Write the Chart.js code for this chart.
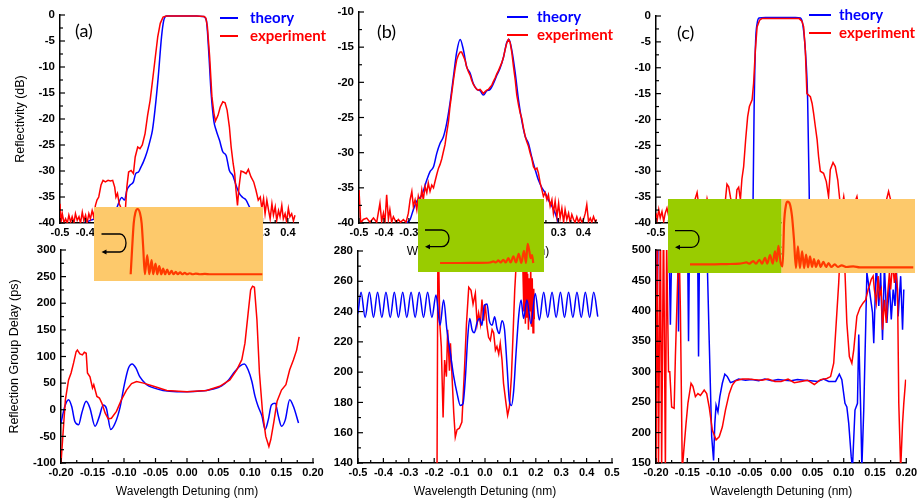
<!DOCTYPE html>
<html><head><meta charset="utf-8">
<script src="https://cdn.jsdelivr.net/npm/chart.js@4"></script>
<style>
html,body{margin:0;padding:0;background:#fff;width:920px;height:502px;overflow:hidden}
canvas{position:absolute;left:0;top:0}
</style></head><body>
<canvas id="aTop" width="920" height="502"></canvas>
<canvas id="aBot" width="920" height="502"></canvas>
<canvas id="bTop" width="920" height="502"></canvas>
<canvas id="bBot" width="920" height="502"></canvas>
<canvas id="cTop" width="920" height="502"></canvas>
<canvas id="cBot" width="920" height="502"></canvas>
<canvas id="insA" width="920" height="502"></canvas>
<canvas id="insB" width="920" height="502"></canvas>
<canvas id="insC" width="920" height="502"></canvas>
<script>
// ---------- tick labels ----------
const xTicksWide = [-0.5,-0.4,-0.3,-0.2,-0.1,0,0.1,0.2,0.3,0.4];
const xTicksFull = [-0.5,-0.4,-0.3,-0.2,-0.1,0,0.1,0.2,0.3,0.4,0.5];
const xTicksNarrow = [-0.2,-0.15,-0.1,-0.05,0,0.05,0.1,0.15,0.2];
const yTicksRefl = [0,-5,-10,-15,-20,-25,-30,-35,-40];
const yTicksReflB = [-10,-15,-20,-25,-30,-35,-40];
const yTicksDelayA = [-100,-50,0,50,100,150,200,250,300];
const yTicksDelayB = [140,160,180,200,220,240,260,280];
const yTicksDelayC = [150,200,250,300,350,400,450,500];
const seriesNames = ['theory','experiment'];

// ---------- (a) ----------
const aTopTheory = [[-0.44,-41],[-0.38,-39.5],[-0.32,-38.5],[-0.28,-37.5],[-0.256,-35.1],[-0.245,-35.6],[-0.236,-33.7],[-0.223,-32.7],[-0.210,-32.1],[-0.201,-30.5],[-0.190,-30.2],[-0.180,-29.2],[-0.171,-28.3],[-0.158,-26.6],[-0.144,-24.1],[-0.135,-22.2],[-0.125,-18.3],[-0.112,-11.9],[-0.099,-4.2],[-0.090,-1.0],[-0.079,-0.2],[-0.04,-0.2],[0,-0.2],[0.04,-0.2],[0.065,-0.3],[0.078,-1.0],[0.087,-6.7],[0.097,-15.1],[0.108,-20.5],[0.117,-22.2],[0.130,-24.1],[0.143,-26.3],[0.156,-27.0],[0.169,-29.9],[0.182,-30.8],[0.195,-32.7],[0.208,-34.3],[0.222,-35.1],[0.235,-35.6],[0.248,-36.9],[0.26,-38],[0.28,-39.5],[0.30,-41]];
const aTopExp = [[-0.500,-36.3],[-0.496,-39.8],[-0.491,-38.2],[-0.484,-40],[-0.478,-39.2],[-0.471,-40],[-0.465,-38.5],[-0.458,-39.8],[-0.452,-38.8],[-0.445,-40],[-0.439,-38.2],[-0.432,-39.5],[-0.425,-38.8],[-0.419,-40],[-0.412,-37.9],[-0.406,-39.5],[-0.399,-38.5],[-0.393,-40],[-0.386,-38.2],[-0.380,-39.2],[-0.373,-37.6],[-0.367,-38.8],[-0.360,-36.6],[-0.354,-35.6],[-0.347,-35.0],[-0.338,-32.7],[-0.330,-31.8],[-0.321,-32.1],[-0.310,-31.8],[-0.301,-31.9],[-0.292,-31.8],[-0.284,-33.1],[-0.279,-35.0],[-0.273,-34.3],[-0.266,-36.3],[-0.258,-37.2],[-0.249,-38.2],[-0.242,-37.6],[-0.236,-33.1],[-0.229,-30.2],[-0.219,-29.9],[-0.210,-30.5],[-0.203,-27.3],[-0.193,-25.4],[-0.184,-25.7],[-0.175,-25.0],[-0.164,-22.8],[-0.154,-19.3],[-0.144,-16.4],[-0.135,-12.8],[-0.125,-8.7],[-0.114,-4.2],[-0.104,-1.6],[-0.093,-0.4],[-0.08,-0.2],[-0.04,-0.2],[0,-0.2],[0.04,-0.2],[0.07,-0.3],[0.076,-0.6],[0.082,-2.2],[0.091,-8.0],[0.100,-15.7],[0.108,-18.9],[0.114,-20.4],[0.124,-19.3],[0.133,-17.7],[0.143,-16.7],[0.152,-16.9],[0.160,-18.3],[0.169,-21.5],[0.176,-25.4],[0.184,-28.6],[0.190,-30.5],[0.195,-33.7],[0.201,-36.6],[0.207,-33.1],[0.215,-30.0],[0.225,-30.2],[0.235,-30.5],[0.244,-29.7],[0.254,-31.1],[0.265,-32.1],[0.274,-33.7],[0.283,-35.6],[0.291,-35.0],[0.297,-37.2],[0.304,-35.3],[0.310,-38.2],[0.317,-35.6],[0.324,-37.6],[0.330,-39.2],[0.337,-36.3],[0.343,-38.5],[0.350,-36.9],[0.356,-39.5],[0.363,-37.6],[0.369,-38.8],[0.376,-36.6],[0.382,-39.2],[0.389,-38.2],[0.395,-39.8],[0.402,-37.2],[0.408,-38.8],[0.415,-38.2],[0.422,-39.6],[0.428,-38.5]];
const aBotTheory = [[-0.200,-25],[-0.194,6],[-0.188,19],[-0.183,6],[-0.178,-22],[-0.172,-28],[-0.167,-6],[-0.160,16],[-0.154,3],[-0.146,-31],[-0.139,-12],[-0.133,9],[-0.128,3],[-0.121,-37],[-0.114,-25],[-0.106,6],[-0.100,44],[-0.093,78],[-0.087,86],[-0.081,78],[-0.075,62],[-0.064,47],[-0.053,41],[-0.038,36],[-0.016,34],[0.000,34],[0.021,35],[0.042,39],[0.055,45],[0.066,56],[0.076,72],[0.085,83],[0.091,86],[0.097,75],[0.103,53],[0.108,25],[0.113,6],[0.119,-12],[0.124,-37],[0.129,-19],[0.134,9],[0.140,12],[0.145,-12],[0.150,-31],[0.156,-19],[0.163,19],[0.169,6],[0.177,-25]];
const aBotExp = [[-0.200,-100],[-0.196,-31],[-0.193,19],[-0.188,56],[-0.184,69],[-0.180,88],[-0.176,109],[-0.174,112],[-0.170,105],[-0.166,103],[-0.163,108],[-0.160,106],[-0.158,69],[-0.154,62],[-0.150,41],[-0.148,47],[-0.143,25],[-0.139,22],[-0.135,12],[-0.130,-6],[-0.125,-17],[-0.120,-16],[-0.112,-3],[-0.104,19],[-0.096,37],[-0.088,49],[-0.080,53],[-0.069,50],[-0.053,44],[-0.032,36],[0.000,34],[0.031,36],[0.052,44],[0.068,56],[0.079,75],[0.087,94],[0.092,125],[0.097,181],[0.101,225],[0.104,232],[0.107,230],[0.111,169],[0.115,69],[0.120,-6],[0.125,-50],[0.130,-69],[0.133,-56],[0.138,-22],[0.143,16],[0.150,37],[0.157,47],[0.163,75],[0.169,94],[0.174,112],[0.178,137]];

// ---------- (b) ----------
const bTopTheory = [[-0.34,-41],[-0.309,-40],[-0.295,-39.5],[-0.282,-38.1],[-0.268,-36.9],[-0.248,-36.0],[-0.228,-33.9],[-0.215,-32.7],[-0.201,-32.0],[-0.188,-30.1],[-0.175,-28.7],[-0.161,-27.7],[-0.148,-25.8],[-0.135,-23.0],[-0.121,-19.2],[-0.108,-15.7],[-0.094,-13.9],[-0.081,-15.4],[-0.068,-17.8],[-0.054,-18.7],[-0.041,-20.2],[-0.027,-21.0],[-0.014,-21.2],[-0.001,-21.8],[0.013,-21.2],[0.026,-21.0],[0.039,-20.2],[0.053,-19.0],[0.066,-18.0],[0.080,-16.4],[0.093,-14.3],[0.102,-13.9],[0.113,-15.4],[0.127,-18.7],[0.140,-22.5],[0.153,-25.4],[0.167,-27.7],[0.180,-28.7],[0.193,-30.6],[0.207,-32.4],[0.220,-33.9],[0.234,-35.0],[0.247,-35.7],[0.260,-36.7],[0.274,-37.6],[0.287,-38.6],[0.301,-40.0],[0.32,-41]];
const bTopExp = [[-0.500,-35.3],[-0.493,-40],[-0.483,-39.5],[-0.469,-39.3],[-0.456,-39.9],[-0.442,-39.3],[-0.429,-39.9],[-0.416,-37.2],[-0.409,-39.8],[-0.402,-38.6],[-0.396,-39.9],[-0.389,-36.0],[-0.382,-39.5],[-0.376,-38.1],[-0.369,-39.9],[-0.362,-39.1],[-0.351,-39.9],[-0.342,-39.5],[-0.333,-39.9],[-0.322,-39.5],[-0.311,-39.9],[-0.302,-38.6],[-0.295,-36.7],[-0.288,-35.5],[-0.282,-37.6],[-0.275,-36.7],[-0.268,-38.1],[-0.262,-36.2],[-0.255,-37.2],[-0.248,-35.3],[-0.242,-36.7],[-0.235,-34.8],[-0.228,-35.7],[-0.222,-34.3],[-0.215,-35.5],[-0.208,-34.6],[-0.201,-35.0],[-0.195,-34.1],[-0.188,-33.1],[-0.181,-32.2],[-0.175,-31.7],[-0.168,-30.9],[-0.161,-29.8],[-0.155,-28.9],[-0.148,-27.2],[-0.141,-25.6],[-0.135,-23.5],[-0.128,-21.6],[-0.121,-19.7],[-0.114,-18.0],[-0.108,-16.8],[-0.101,-16.1],[-0.094,-15.7],[-0.088,-15.7],[-0.081,-16.3],[-0.074,-16.9],[-0.068,-17.8],[-0.061,-18.5],[-0.054,-19.0],[-0.048,-19.7],[-0.041,-20.3],[-0.034,-20.7],[-0.027,-21.0],[-0.021,-21.1],[-0.014,-21.0],[-0.007,-21.3],[-0.001,-21.6],[0.006,-21.3],[0.013,-21.1],[0.019,-21.0],[0.026,-20.7],[0.033,-20.4],[0.039,-19.9],[0.046,-19.4],[0.053,-18.8],[0.060,-18.3],[0.066,-17.8],[0.073,-17.2],[0.080,-16.4],[0.086,-15.4],[0.093,-14.4],[0.100,-13.9],[0.106,-14.3],[0.113,-15.7],[0.120,-17.8],[0.127,-19.7],[0.133,-21.8],[0.140,-23.2],[0.147,-24.4],[0.153,-25.1],[0.160,-26.5],[0.167,-27.7],[0.173,-28.4],[0.180,-29.1],[0.187,-30.1],[0.193,-30.8],[0.200,-32.0],[0.207,-32.4],[0.214,-32.2],[0.220,-32.9],[0.227,-34.3],[0.234,-35.3],[0.240,-36.2],[0.247,-35.7],[0.254,-36.7],[0.260,-36.0],[0.267,-37.6],[0.274,-36.7],[0.280,-38.6],[0.287,-36.9],[0.294,-39.1],[0.301,-37.2],[0.307,-39.3],[0.314,-37.9],[0.321,-39.9],[0.327,-38.1],[0.334,-39.5],[0.341,-38.6],[0.347,-39.9],[0.354,-38.8],[0.361,-39.5],[0.367,-39.9],[0.374,-39.1],[0.381,-39.9],[0.388,-39.3],[0.394,-39.9],[0.401,-39.5],[0.408,-38.6],[0.414,-37.4],[0.421,-39.8],[0.428,-39.3],[0.434,-39.9],[0.441,-39.1],[0.448,-39.8],[0.454,-39.5]];
const bBotTheory = [[-0.500,238.8],[-0.488,252.7],[-0.472,236.1],[-0.455,252.7],[-0.439,236.1],[-0.423,252.7],[-0.406,236.1],[-0.390,252.7],[-0.373,236.1],[-0.357,252.7],[-0.341,236.1],[-0.324,252.7],[-0.308,236.1],[-0.291,252.7],[-0.275,236.1],[-0.259,252.7],[-0.242,236.1],[-0.226,252.7],[-0.209,236.1],[-0.193,251],[-0.177,231],[-0.163,247.6],[-0.150,228],[-0.136,212],[-0.123,197],[-0.110,186],[-0.097,178],[-0.087,179],[-0.077,197],[-0.068,223],[-0.060,235.5],[-0.051,228],[-0.042,226],[-0.031,233],[-0.021,235.5],[-0.012,231],[-0.003,244],[0.008,245],[0.017,234],[0.028,231],[0.038,236.6],[0.047,229],[0.056,225.5],[0.067,234],[0.077,228],[0.087,203.5],[0.096,181],[0.104,178],[0.113,188],[0.122,212],[0.133,237.7],[0.142,247.6],[0.152,235.5],[0.165,247.6],[0.181,232],[0.198,252],[0.214,234.4],[0.231,252.7],[0.247,236.1],[0.264,252.7],[0.280,236.1],[0.297,252.7],[0.313,236.1],[0.329,252.7],[0.346,236.1],[0.362,252.7],[0.379,236.1],[0.395,252.7],[0.412,236.1],[0.428,252.7],[0.444,236.6]];
const bBotExp = [[-0.189,130],[-0.185,300],[-0.178,232],[-0.172,217],[-0.165,170],[-0.159,208],[-0.152,197],[-0.147,228],[-0.140,201],[-0.136,219],[-0.130,198],[-0.123,173],[-0.117,157],[-0.110,162],[-0.101,163],[-0.091,167],[-0.081,201],[-0.073,232],[-0.064,256],[-0.055,254],[-0.047,245],[-0.038,252],[-0.031,232],[-0.025,239],[-0.018,232],[-0.012,248],[-0.005,234],[0.001,245],[0.008,230],[0.014,223],[0.021,221],[0.028,228],[0.034,226],[0.041,214.5],[0.047,217],[0.054,212],[0.060,219],[0.067,208],[0.073,192.5],[0.083,179],[0.089,171.5],[0.096,177],[0.104,197],[0.110,223],[0.117,254],[0.123,272],[0.129,290],[0.135,300],[0.140,285],[0.145,300],[0.150,262],[0.153,240],[0.156,275],[0.159,232],[0.162,268],[0.165,236],[0.168,265],[0.171,228],[0.174,262],[0.177,240],[0.180,270],[0.183,230],[0.186,262],[0.189,226],[0.192,255],[0.194,235]];

// ---------- (c) ----------
const cTopTheory = [[-0.115,-45],[-0.110,-35],[-0.106,-18],[-0.100,-5],[-0.094,-1.5],[-0.086,-0.4],[-0.06,-0.3],[0,-0.3],[0.06,-0.3],[0.080,-0.4],[0.090,-1.8],[0.0997,-6.6],[0.109,-16.2],[0.115,-33],[0.118,-45]];
const cTopExp = [[-0.500,-38.1],[-0.495,-39.4],[-0.489,-37.4],[-0.483,-39.0],[-0.476,-37.8],[-0.469,-39.7],[-0.463,-38.1],[-0.456,-37.1],[-0.449,-38.7],[-0.44,-39.5],[-0.43,-37.8],[-0.42,-39.2],[-0.41,-38.0],[-0.40,-39.6],[-0.39,-37.5],[-0.38,-38.8],[-0.37,-37.0],[-0.36,-39.0],[-0.35,-36.5],[-0.335,-34.1],[-0.325,-37.8],[-0.315,-36.8],[-0.305,-38.5],[-0.295,-35.3],[-0.285,-37.6],[-0.275,-36.2],[-0.265,-38.4],[-0.255,-36.6],[-0.245,-37.9],[-0.235,-36.0],[-0.225,-37.4],[-0.215,-32.5],[-0.208,-33.0],[-0.201,-35.0],[-0.194,-36.5],[-0.187,-35.8],[-0.181,-37.0],[-0.175,-33.6],[-0.168,-33.1],[-0.161,-35.5],[-0.155,-31.5],[-0.148,-29.1],[-0.140,-23.9],[-0.132,-19.5],[-0.125,-17.5],[-0.114,-16.2],[-0.108,-13.0],[-0.101,-6.6],[-0.094,-2.1],[-0.084,-0.8],[-0.075,-0.5],[0,-0.5],[0.075,-0.5],[0.086,-1.0],[0.093,-2.1],[0.0997,-6.6],[0.106,-15.0],[0.113,-15.3],[0.120,-15.6],[0.127,-16.9],[0.133,-18.8],[0.140,-21.4],[0.147,-23.9],[0.153,-27.2],[0.160,-30.0],[0.173,-30.4],[0.184,-32.0],[0.193,-34.9],[0.200,-29.7],[0.211,-28.3],[0.220,-29.1],[0.230,-31.7],[0.238,-35.5],[0.245,-37.5],[0.254,-34.9],[0.262,-37.8],[0.272,-36.5],[0.282,-38.6],[0.292,-36.9],[0.307,-34.9],[0.317,-37.9],[0.330,-36.4],[0.345,-38.2],[0.360,-36.7],[0.375,-38.9],[0.390,-37.1],[0.405,-38.4],[0.420,-36.6],[0.434,-33.9],[0.441,-35.3],[0.450,-37.8],[0.460,-38.5]];
const cBotTheory = [[-0.200,560],[-0.198,420],[-0.196,560],[-0.180,560],[-0.177,377],[-0.174,560],[-0.166,560],[-0.164,366],[-0.162,560],[-0.150,560],[-0.148,350],[-0.146,560],[-0.134,560],[-0.132,325],[-0.130,560],[-0.120,560],[-0.115,352],[-0.111,193],[-0.108,154],[-0.106,215],[-0.104,245],[-0.101,234],[-0.098,259],[-0.094,281],[-0.090,296],[-0.086,292],[-0.081,282],[-0.076,284],[-0.068,288],[-0.057,286],[-0.047,287],[-0.036,285],[-0.026,288],[-0.015,285],[-0.005,287],[0.005,286],[0.016,285],[0.026,287],[0.037,286],[0.047,285],[0.058,284],[0.068,288],[0.076,284],[0.087,284],[0.093,296],[0.097,287],[0.102,248],[0.105,242],[0.108,215],[0.112,160],[0.114,143],[0.118,237],[0.122,248],[0.124,361],[0.127,242],[0.129,143],[0.132,237],[0.135,369],[0.137,463],[0.141,435],[0.146,397],[0.148,347],[0.152,479],[0.156,408],[0.159,463],[0.162,352],[0.165,474],[0.169,380],[0.173,446],[0.176,386],[0.179,435],[0.182,408],[0.184,474],[0.187,391],[0.191,457],[0.194,369],[0.196,435]];
const cBotExp = [[-0.200,140],[-0.198,560],[-0.196,140],[-0.193,560],[-0.191,140],[-0.188,560],[-0.185,140],[-0.183,520],[-0.180,300],[-0.178,300],[-0.175,242],[-0.171,240],[-0.169,325],[-0.165,463],[-0.164,560],[-0.161,400],[-0.158,140],[-0.156,165],[-0.152,215],[-0.149,248],[-0.144,281],[-0.141,276],[-0.137,259],[-0.133,264],[-0.129,261],[-0.123,270],[-0.119,264],[-0.115,242],[-0.110,204],[-0.104,188],[-0.099,193],[-0.094,209],[-0.089,237],[-0.083,264],[-0.078,278],[-0.073,285],[-0.062,288],[-0.052,288],[-0.042,287],[-0.031,286],[-0.021,288],[-0.010,284],[0.000,284],[0.011,288],[0.021,282],[0.032,284],[0.042,286],[0.053,279],[0.063,287],[0.073,289],[0.079,292],[0.084,314],[0.088,380],[0.092,446],[0.094,490],[0.096,520],[0.100,520],[0.105,380],[0.109,325],[0.113,314],[0.116,336],[0.121,391],[0.126,405],[0.131,413],[0.135,418],[0.139,435],[0.141,441],[0.144,452],[0.147,457],[0.149,435],[0.152,413],[0.155,457],[0.157,424],[0.160,435],[0.162,369],[0.165,418],[0.168,380],[0.170,424],[0.173,463],[0.175,435],[0.178,479],[0.181,446],[0.183,468],[0.186,435],[0.188,248],[0.191,140],[0.194,215],[0.196,248],[0.199,287]];

// ---------- insets (normalised 0..100 coordinates inside each inset) ----------
const insetACurve = [[21.7,9.1],[22.5,41.8],[23.5,78],[24.5,92.7],[25.8,97.3],[27.2,91.8],[28.2,78],[29.1,46],[30.1,9.1],[31.5,35],[32.7,9.1],[34.1,28.2],[35.0,9.1],[36.4,23.6],[37.4,9.1],[38.6,20],[39.8,9.1],[40.9,16.8],[42.1,9.1],[43.3,15.5],[44.5,9.1],[45.9,13.6],[47.0,9.1],[48.4,12.3],[49.6,9.1],[51.0,11.8],[52.2,9.1],[53.7,11],[55.1,9.1],[56.7,10.5],[58.3,9.1],[60.2,10],[62.6,9.1],[65.6,9.5],[68.5,9.1],[99.6,9.1]];
const insetBCurve = [[17.5,12.3],[33.3,12.3],[46.6,12.5],[57.1,13],[59.8,14.5],[61.9,13],[63.8,15.9],[65.6,13],[67.7,16.8],[69.6,13],[71.7,19],[73.5,13],[75.7,21.4],[77.8,13],[79.9,25],[82,12.3],[84.1,29],[85.7,12.3],[87,38.6],[88.4,28],[89.4,19],[90.5,23],[91.5,12.3]];
const insetCCurve = [[8.9,11.7],[17.0,11.7],[23.8,12.1],[29.1,12.6],[30.5,13.5],[31.8,14.3],[32.9,12.6],[34.5,16.1],[35.6,12.6],[37.0,17.9],[38.1,12.6],[39.3,20.6],[40.2,12.6],[41.3,24.2],[42.4,12.6],[43.3,29.1],[44.0,15.7],[44.7,36.8],[45.6,14.3],[46.4,9.0],[47.0,67.3],[47.8,92.4],[48.4,96.4],[49.4,92.4],[50.2,76.7],[51.0,45.3],[51.8,6.7],[52.6,35.9],[53.4,6.7],[54.3,29.1],[55.1,6.7],[55.9,24.7],[56.7,7.6],[57.5,22.4],[58.3,8.1],[59.1,18.8],[59.9,8.1],[60.9,17],[61.8,8.1],[62.9,15.2],[64.0,8.1],[65.0,13.5],[66.1,8.1],[67.5,11.7],[68.8,8.1],[70.3,10.3],[72.3,8.1],[75.0,9.0],[77.7,7.6],[99.3,7.6]];

// ---------- styling ----------
const BLUE = '#0000ff', RED = '#ff0000';
const ORANGE = '#fdc96b', GREEN = '#99cc00', INSET_LINE = '#ff3a00';

function hasFont(name) {
  const c = document.createElement('canvas').getContext('2d');
  c.font = 'bold 40px monospace';
  const w0 = c.measureText('-0.20 Wavelength').width;
  c.font = "bold 40px '" + name + "', monospace";
  return Math.abs(c.measureText('-0.20 Wavelength').width - w0) > 0.5;
}
const narrowOK = hasFont('Liberation Sans Narrow');
const xTickFont = narrowOK
  ? {family: "'Liberation Sans Narrow', 'Liberation Sans', Arial, sans-serif", size: 12.5, weight: 'bold'}
  : {family: "'Liberation Sans', Arial, sans-serif", size: 11, weight: 'bold'};
const yTickFont = {family: "'Liberation Sans', Arial, sans-serif", size: 11.5, weight: 'bold'};
const fmt = (v, d) => (Math.abs(v) < 1e-9 ? 0 : v).toFixed(d);

const tickMarks = {
  id: 'tickMarks',
  afterDraw(chart) {
    const {ctx, chartArea: a, scales: {x, y}} = chart;
    ctx.save(); ctx.strokeStyle = '#000'; ctx.lineWidth = 1.2;
    const draw = (s, horiz) => {
      const vals = s.ticks.map(t => t.value).sort((p, q) => p - q);
      const step = vals[1] - vals[0];
      const marks = vals.map(v => [v, 5]);
      for (let i = -1; i < vals.length; i++) {
        const m = vals[0] + (i + 0.5) * step;
        if (m >= s.min - 1e-9 && m <= s.max + 1e-9) marks.push([m, 3]);
      }
      marks.forEach(([v, len]) => {
        const p = s.getPixelForValue(v);
        ctx.beginPath();
        if (horiz) { ctx.moveTo(p, a.bottom); ctx.lineTo(p, a.bottom - len); }
        else { ctx.moveTo(a.left, p); ctx.lineTo(a.left + len, p); }
        ctx.stroke();
      });
    };
    draw(x, true); draw(y, false);
    ctx.restore();
  }
};

const decor = {
  id: 'decor',
  afterDraw(chart, args, o) {
    if (!o || !o.label) return;
    const ctx = chart.ctx; ctx.save();
    ctx.textBaseline = 'middle'; ctx.textAlign = 'left';
    ctx.font = "18px Lato, 'Open Sans', sans-serif"; ctx.fillStyle = '#000';
    ctx.fillText(o.label, o.labelX, o.labelY);
    if (o.legend) {
      ctx.font = "bold 15px Lato, 'Open Sans', sans-serif";
      o.legend.y.forEach((yy, i) => {
        const d = chart.data.datasets[i];
        ctx.strokeStyle = d.borderColor; ctx.lineWidth = 2;
        ctx.beginPath(); ctx.moveTo(o.legend.x1, yy); ctx.lineTo(o.legend.x2, yy); ctx.stroke();
        ctx.fillStyle = d.borderColor; ctx.fillText(d.label, o.legend.tx, yy);
      });
    }
    ctx.restore();
  }
};

function panel(id, o) {
  const XH = 36;
  const a = o.area;
  new Chart(document.getElementById(id), {
    type: 'line',
    data: {datasets: [
      {label: seriesNames[0], data: o.theory.map(p => ({x: p[0], y: p[1]})), borderColor: BLUE, borderWidth: 1.5,
       pointRadius: 0, fill: false, tension: 0, cubicInterpolationMode: o.smoothTheory ? 'monotone' : 'default', order: o.blueOnTop ? 0 : 1},
      {label: seriesNames[1], data: o.exp.map(p => ({x: p[0], y: p[1]})), borderColor: RED, borderWidth: 1.5,
       pointRadius: 0, fill: false, tension: 0, cubicInterpolationMode: 'default', order: o.blueOnTop ? 1 : 0}
    ]},
    options: {
      responsive: false, animation: false, devicePixelRatio: 1,
      layout: {padding: {left: 0, top: a.T, right: 920 - a.R, bottom: 502 - a.B - XH}},
      plugins: {legend: {display: false}, tooltip: {enabled: false}, decor: o.decor},
      scales: {
        x: {type: 'linear', min: o.x.min, max: o.x.max, bounds: 'data',
          grid: {display: false, drawTicks: false}, border: {display: true, color: '#000', width: 1.5},
          ticks: {padding: 3, font: xTickFont, color: '#000', autoSkip: false, maxRotation: 0, minRotation: 0, callback: v => fmt(v, o.x.dec)},
          afterBuildTicks: s => { s.ticks = o.x.ticks.map(v => ({value: v})); },
          afterFit: s => { s.height = XH; },
          title: {display: true, text: 'Wavelength Detuning (nm)', color: '#000', padding: 0,
            font: {family: "'Liberation Sans', Arial, sans-serif", size: 12}}
        },
        y: {type: 'linear', min: o.y.min, max: o.y.max, bounds: 'data',
          grid: {display: false, drawTicks: false}, border: {display: true, color: '#000', width: 1.5},
          ticks: {padding: 5, font: yTickFont, color: '#000', autoSkip: false, callback: v => fmt(v, 0)},
          afterBuildTicks: s => { s.ticks = o.y.ticks.map(v => ({value: v})); },
          afterFit: s => { s.width = a.L; },
          title: {display: !!o.yTitle, text: o.yTitle || '', color: '#000', padding: {top: o.yTitlePad || 0, bottom: 0},
            font: {family: "'Liberation Sans', Arial, sans-serif", size: 12.5}}
        }
      }
    },
    plugins: [tickMarks, decor]
  });
}

const insetBg = {
  id: 'insetBg',
  beforeDatasetsDraw(chart, args, o) {
    const {ctx, chartArea: a, scales: {x}} = chart;
    ctx.save();
    o.bands.forEach(b => {
      const x0 = x.getPixelForValue(b.from), x1 = x.getPixelForValue(b.to);
      ctx.fillStyle = b.color; ctx.fillRect(x0, a.top, x1 - x0, a.bottom - a.top);
    });
    const r = o.arrow, L = a.left, T = a.top;
    ctx.strokeStyle = '#000'; ctx.lineWidth = 1.3;
    ctx.beginPath();
    ctx.moveTo(L + r.x0, T + r.yt);
    ctx.lineTo(L + r.xs, T + r.yt);
    ctx.ellipse(L + r.xs, T + (r.yt + r.yb) / 2, r.rx, (r.yb - r.yt) / 2, 0, -Math.PI / 2, Math.PI / 2);
    ctx.lineTo(L + r.x0 + 3, T + r.yb);
    ctx.stroke();
    ctx.fillStyle = '#000';
    ctx.beginPath();
    ctx.moveTo(L + r.x0, T + r.yb); ctx.lineTo(L + r.x0 + 5, T + r.yb - 2.5); ctx.lineTo(L + r.x0 + 5, T + r.yb + 2.5);
    ctx.closePath(); ctx.fill();
    ctx.restore();
  }
};

function inset(id, o) {
  new Chart(document.getElementById(id), {
    type: 'line',
    data: {datasets: [{data: o.curve.map(p => ({x: p[0], y: p[1]})), borderColor: INSET_LINE, borderWidth: 2.2,
      pointRadius: 0, fill: false, cubicInterpolationMode: 'monotone'}]},
    options: {
      responsive: false, animation: false, devicePixelRatio: 1,
      layout: {padding: {left: o.box[0], top: o.box[1], right: 920 - o.box[2], bottom: 502 - o.box[3]}},
      plugins: {legend: {display: false}, tooltip: {enabled: false}, insetBg: {bands: o.bands, arrow: o.arrow}},
      scales: {x: {type: 'linear', display: false, min: 0, max: 100}, y: {type: 'linear', display: false, min: 0, max: 100}}
    },
    plugins: [insetBg]
  });
}

panel('aTop', {area: {L: 60, T: 15, R: 298, B: 223}, theory: aTopTheory, exp: aTopExp, smoothTheory: true,
  x: {min: -0.5, max: 0.44, ticks: xTicksWide, dec: 1}, y: {min: -40, max: 0, ticks: yTicksRefl},
  yTitle: 'Reflectivity (dB)', yTitlePad: 13.5,
  decor: {label: '(a)', labelX: 75, labelY: 31.5, legend: {x1: 220, x2: 238, tx: 250, y: [18, 36]}}});
panel('aBot', {area: {L: 61, T: 250, R: 313, B: 463}, theory: aBotTheory, exp: aBotExp, smoothTheory: true,
  x: {min: -0.2, max: 0.2, ticks: xTicksNarrow, dec: 2}, y: {min: -100, max: 300, ticks: yTicksDelayA},
  yTitle: 'Reflection Group Delay (ps)', yTitlePad: 7.5, decor: {}});
panel('bTop', {area: {L: 359, T: 12, R: 597, B: 223}, theory: bTopTheory, exp: bTopExp, smoothTheory: true,
  x: {min: -0.5, max: 0.455, ticks: xTicksWide, dec: 1}, y: {min: -40, max: -10, ticks: yTicksReflB},
  decor: {label: '(b)', labelX: 377, labelY: 32, legend: {x1: 507, x2: 528, tx: 537, y: [17, 35]}}});
panel('bBot', {area: {L: 358, T: 251, R: 612, B: 463}, theory: bBotTheory, exp: bBotExp, smoothTheory: true, blueOnTop: true,
  x: {min: -0.5, max: 0.5, ticks: xTicksFull, dec: 1}, y: {min: 140, max: 280, ticks: yTicksDelayB}, decor: {}});
panel('cTop', {area: {L: 656, T: 16, R: 905, B: 223}, theory: cTopTheory, exp: cTopExp, smoothTheory: true,
  x: {min: -0.5, max: 0.5, ticks: xTicksFull, dec: 1}, y: {min: -40, max: 0, ticks: yTicksRefl},
  decor: {label: '(c)', labelX: 677, labelY: 33, legend: {x1: 809, x2: 831, tx: 839, y: [15, 33]}}});
panel('cBot', {area: {L: 656, T: 250, R: 909, B: 463}, theory: cBotTheory, exp: cBotExp,
  x: {min: -0.2, max: 0.2, ticks: xTicksNarrow, dec: 2}, y: {min: 150, max: 500, ticks: yTicksDelayC}, decor: {}});

inset('insA', {box: [94, 207, 263, 281], curve: insetACurve, bands: [{from: 0, to: 100, color: ORANGE}],
  arrow: {x0: 7.5, xs: 26, yt: 27, yb: 45, rx: 6}});
inset('insB', {box: [418, 199, 544, 272], curve: insetBCurve, bands: [{from: 0, to: 100, color: GREEN}],
  arrow: {x0: 7, xs: 23.7, yt: 31, yb: 47.7, rx: 7.3}});
inset('insC', {box: [668, 199, 915, 273], curve: insetCCurve, bands: [{from: 0, to: 46, color: GREEN}, {from: 46, to: 100, color: ORANGE}],
  arrow: {x0: 7, xs: 23.7, yt: 31.7, yb: 48.3, rx: 7.3}});
</script>
</body></html>
